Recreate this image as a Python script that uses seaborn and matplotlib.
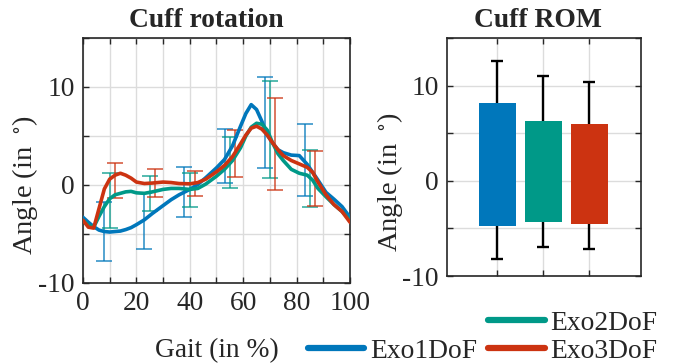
import numpy as np
import pandas as pd
import matplotlib
matplotlib.use("Agg")
import matplotlib.pyplot as plt
from matplotlib.lines import Line2D
import seaborn as sns

# ---------------- data ----------------
series = ["Exo1DoF", "Exo2DoF", "Exo3DoF"]
colors = ["#0077BB", "#009988", "#CC3311"]

gait = [0, 2, 4, 6, 8, 10, 12, 14, 16, 18, 20, 23, 26, 30, 33, 36, 40, 43, 46, 50,
        53, 56, 59, 61, 63, 65, 67, 69, 71, 73, 75, 78, 81, 84, 86, 88, 91, 94, 97, 100]

exo1 = [-3.3, -3.8, -4.25, -4.6, -4.75, -4.8, -4.75, -4.7, -4.55, -4.35, -4.05, -3.55,
        -2.9, -2.1, -1.5, -1.0, -0.45, 0.05, 0.75, 1.75, 2.6, 4.0, 6.0, 7.3, 8.2, 7.7,
        6.5, 5.1, 4.3, 3.6, 3.3, 3.05, 3.0, 2.1, 1.3, 0.5, -0.75, -1.45, -2.2, -3.3]
exo2 = [-3.6, -4.1, -4.3, -3.2, -2.2, -1.4, -1.0, -0.85, -0.7, -0.65, -0.8, -0.85,
        -0.7, -0.45, -0.35, -0.35, -0.45, -0.35, 0.1, 0.9, 1.6, 2.5, 3.8, 5.0, 5.9, 6.3,
        6.2, 5.6, 4.3, 3.2, 2.5, 1.6, 1.2, 1.0, 0.5, -0.35, -1.2, -2.0, -2.7, -3.6]
exo3 = [-3.6, -4.3, -4.4, -2.4, -0.4, 0.6, 1.0, 1.2, 1.0, 0.7, 0.3, 0.15,
        0.2, 0.3, 0.25, 0.15, 0.12, 0.25, 0.6, 1.35, 2.0, 2.9, 4.2, 5.1, 5.8, 6.0,
        5.7, 5.1, 4.3, 3.6, 3.0, 2.5, 2.15, 1.8, 1.3, 0.3, -1.0, -2.0, -2.7, -3.8]

# error bars on the gait curves (position, centre, half-width)
err1_x = [8, 23, 38, 53, 68, 83]
err1_c = [-4.75, -3.65, -0.75, 3.0, 6.35, 2.55]
err1_e = [3.05, 2.85, 2.55, 2.75, 4.65, 3.65]
err2_x = [10, 25, 40, 55, 70, 85]
err2_c = [-1.6, -0.85, -0.5, 2.3, 5.7, 0.7]
err2_e = [2.8, 1.8, 1.7, 2.6, 4.95, 2.9]
err3_x = [12, 27, 42, 57, 72, 87]
err3_c = [0.45, 0.2, 0.15, 3.2, 4.2, 0.7]
err3_e = [1.8, 1.45, 1.3, 2.4, 4.7, 2.8]

# range of motion (floating bars) with whiskers
rom_low = [-4.8, -4.3, -4.5]
rom_high = [8.2, 6.3, 6.0]
rom_whisk_low = [-8.25, -7.0, -7.15]
rom_whisk_high = [12.55, 11.0, 10.4]

# ---------------- style ----------------
sns.set_theme(style="ticks")
plt.rcParams["font.family"] = ["Liberation Serif", "DejaVu Serif"]
plt.rcParams["mathtext.fontset"] = "stix"
FS = 19.8
LFS = 20.5
box_col = "#262626"
ylab = "Angle (in $\\;^{\\circ}$)"

fig = plt.figure(figsize=(6.73, 3.64), dpi=100)
ax1 = fig.add_axes([83 / 673, 1 - 283 / 364, 267 / 673, 245 / 364])
ax2 = fig.add_axes([447 / 673, 1 - 276 / 364, 194 / 673, 238 / 364])

# ---------------- left: curves ----------------
df = pd.DataFrame({
    "gait": gait * 3,
    "angle": exo1 + exo2 + exo3,
    "series": [s for s in series for _ in gait],
})

errs = [(err1_x, err1_c, err1_e), (err2_x, err2_c, err2_e), (err3_x, err3_c, err3_e)]
for (ex, ec, ee), col in zip(errs, colors):
    ax1.errorbar(ex, ec, yerr=ee, fmt="none", ecolor=col, alpha=0.72,
                 elinewidth=1.3, capsize=5.5, capthick=1.3, zorder=2)

sns.lineplot(data=df, x="gait", y="angle", hue="series", palette=colors,
             hue_order=series, linewidth=2.6, legend=False, ax=ax1, zorder=3)

ax1.set_xlim(0, 100)
ax1.set_ylim(-10, 15)
ax1.set_xticks(np.arange(0, 101, 10))
ax1.set_xticklabels([str(v) if v % 20 == 0 else "" for v in range(0, 101, 10)])
ax1.set_yticks([-10, -5, 0, 5, 10, 15])
ax1.set_yticklabels(["-10", "", "0", "", "10", ""])
ax1.set_xlabel("Gait (in %)", fontsize=FS, labelpad=16)
ax1.set_ylabel(ylab, fontsize=LFS)
ax1.yaxis.set_label_coords(-43 / 267, 0.40)
ax1.set_title("Cuff rotation", fontsize=FS, fontweight="bold", pad=8, x=0.46)

# ---------------- right: ROM bars ----------------
rom_df = pd.DataFrame({
    "system": series,
    "height": np.array(rom_high) - np.array(rom_low),
    "bottom": rom_low,
})
sns.barplot(data=rom_df, x="system", y="height", order=series, bottom=rom_df["bottom"].to_numpy(),
            width=0.8, color=colors[0], saturation=1, errorbar=None, ax=ax2, zorder=3)
for patch, col in zip(ax2.patches, colors):
    patch.set_facecolor(col)
    patch.set_edgecolor("none")

mid = (np.array(rom_whisk_high) + np.array(rom_whisk_low)) / 2
half = (np.array(rom_whisk_high) - np.array(rom_whisk_low)) / 2
ax2.errorbar(np.arange(len(series)), mid, yerr=half, fmt="none", ecolor="black",
             elinewidth=1.7, capsize=4.2, capthick=1.7, zorder=2)

ax2.set_xlim(-1.09, 3.12)
ax2.set_ylim(-10, 15)
ax2.set_xticks([0, 1, 2])
ax2.set_xticklabels(["", "", ""])
ax2.set_xlabel("")
ax2.set_yticks([-10, -5, 0, 5, 10, 15])
ax2.set_yticklabels(["-10", "", "0", "", "10", ""])
ax2.set_ylabel(ylab, fontsize=LFS)
ax2.yaxis.set_label_coords(-42 / 194, 0.397)
ax2.set_title("Cuff ROM", fontsize=FS, fontweight="bold", pad=8, x=0.47)

for ax in (ax1, ax2):
    ax.grid(True, color="#dcdcdc", linewidth=1.0, zorder=0)
    ax.set_axisbelow(True)
    for sp in ax.spines.values():
        sp.set_visible(True)
        sp.set_color(box_col)
        sp.set_linewidth(1.2)
    ax.tick_params(direction="in", length=4, width=1.0, color=box_col,
                   labelsize=FS, labelcolor="#262626",
                   top=True, right=True, pad=6)

# ---------------- legend ----------------
handles = [Line2D([], [], color="none", label=" ")]
handles += [Line2D([], [], color=c, linewidth=4.5, label=s) for c, s in zip(colors, series)]
fig.legend(handles=handles, ncol=2, loc="lower left",
           bbox_to_anchor=(308 / 673, 0.0), frameon=False, fontsize=FS,
           handlelength=2.05, handletextpad=0.2, columnspacing=0.42,
           labelspacing=0.1, borderpad=0.0, borderaxespad=0.0)

fig.savefig("out.png", dpi=100)
